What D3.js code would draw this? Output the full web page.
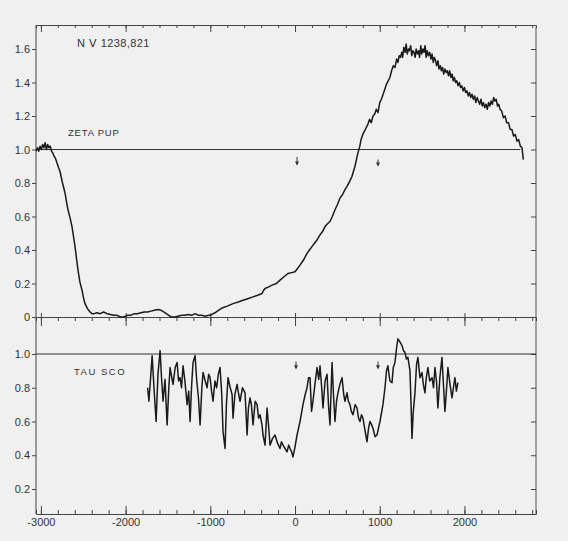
<!DOCTYPE html>
<html><head><meta charset="utf-8">
<script src="https://cdn.jsdelivr.net/npm/d3@7"></script>
<style>
html,body{margin:0;padding:0;background:#f0f0f0;}
text{font-family:"Liberation Sans",Arial,sans-serif;fill:#333;}
</style></head>
<body><svg id="c" width="568" height="541"></svg>
<script>
// ---- data (velocity km/s, normalised flux) ----
const xMajorTicks = [-3000,-2000,-1000,0,1000,2000];
const xMinorTicks = [-3000,-2800,-2600,-2400,-2200,-2000,-1800,-1600,-1400,-1200,-1000,-800,-600,-400,-200,0,200,400,600,800,1000,1200,1400,1600,1800,2000,2200,2400,2600,2800];
const topYTicks = [0,0.2,0.4,0.6,0.8,1.0,1.2,1.4,1.6];
const botYTicks = [0.2,0.4,0.6,0.8,1.0];
const titleText = "N \u2164  1238,821";
const starNames = ["ZETA PUP","TAU SCO"];
const arrowVel = [0, 980];

const zetaPup = [
[-3055,0.99],[-3040,1.01],[-3025,0.99],[-3010,1.02],[-2995,1.00],[-2980,1.03],[-2965,1.01],[-2950,1.04],[-2935,1.00],[-2920,1.03],[-2905,1.01],[-2890,1.02],[-2875,0.99],[-2860,0.98],[-2845,0.96],[-2830,0.95],[-2810,0.92],[-2790,0.89],[-2775,0.87],[-2745,0.80],[-2715,0.74],[-2695,0.68],[-2680,0.64],[-2655,0.59],[-2633,0.54],[-2615,0.48],[-2597,0.42],[-2580,0.35],[-2562,0.28],[-2540,0.21],[-2515,0.16],[-2495,0.11],[-2480,0.08],[-2450,0.05],[-2420,0.03],[-2397,0.02],[-2370,0.02],[-2340,0.025],[-2300,0.02],[-2260,0.03],[-2220,0.02],[-2180,0.015],[-2140,0.01],[-2100,0.01],[-2060,0.0],[-2020,0.0],[-1980,0.01],[-1940,0.01],[-1900,0.02],[-1860,0.02],[-1820,0.025],[-1780,0.03],[-1740,0.03],[-1700,0.035],[-1660,0.04],[-1620,0.045],[-1580,0.04],[-1550,0.03],[-1520,0.02],[-1490,0.01],[-1460,0.0],[-1420,0.0],[-1380,0.005],[-1340,0.01],[-1300,0.01],[-1260,0.015],[-1220,0.01],[-1180,0.02],[-1140,0.01],[-1100,0.01],[-1060,0.005],[-1020,0.01],[-1000,0.01],[-930,0.03],[-860,0.054],[-800,0.065],[-732,0.08],[-670,0.09],[-614,0.10],[-550,0.11],[-496,0.12],[-440,0.13],[-390,0.14],[-370,0.16],[-354,0.17],[-310,0.18],[-271,0.19],[-220,0.20],[-177,0.22],[-130,0.24],[-83,0.26],[-40,0.265],[0,0.27],[30,0.29],[59,0.31],[100,0.34],[142,0.38],[170,0.40],[200,0.42],[230,0.44],[260,0.46],[295,0.49],[325,0.51],[354,0.54],[380,0.555],[413,0.57],[440,0.60],[472,0.64],[500,0.67],[531,0.71],[560,0.73],[590,0.76],[614,0.78],[645,0.81],[673,0.84],[690,0.87],[708,0.90],[725,0.94],[743,0.98],[765,1.02],[780,1.06],[800,1.09],[820,1.11],[840,1.13],[860,1.15],[880,1.18],[900,1.16],[920,1.20],[940,1.21],[960,1.24],[980,1.22],[1000,1.28],[1020,1.30],[1040,1.33],[1060,1.36],[1080,1.39],[1100,1.41],[1120,1.43],[1140,1.47],[1160,1.50],[1180,1.49],[1200,1.54],[1215,1.52],[1230,1.56],[1245,1.55],[1260,1.58],[1270,1.55],[1285,1.61],[1300,1.58],[1312,1.63],[1325,1.57],[1340,1.60],[1350,1.59],[1365,1.62],[1378,1.56],[1392,1.59],[1405,1.58],[1418,1.55],[1430,1.60],[1445,1.57],[1458,1.59],[1470,1.55],[1485,1.62],[1496,1.57],[1510,1.60],[1522,1.58],[1535,1.62],[1548,1.55],[1560,1.59],[1575,1.56],[1590,1.58],[1605,1.54],[1618,1.57],[1632,1.52],[1645,1.55],[1660,1.53],[1672,1.50],[1688,1.53],[1700,1.48],[1715,1.50],[1728,1.47],[1742,1.49],[1755,1.45],[1770,1.48],[1785,1.46],[1798,1.47],[1812,1.44],[1826,1.47],[1840,1.43],[1855,1.45],[1868,1.41],[1882,1.43],[1895,1.40],[1910,1.41],[1925,1.38],[1940,1.40],[1955,1.37],[1970,1.38],[1985,1.35],[2000,1.37],[2015,1.34],[2030,1.35],[2045,1.32],[2060,1.34],[2075,1.31],[2090,1.33],[2105,1.30],[2120,1.32],[2135,1.28],[2150,1.31],[2165,1.29],[2180,1.27],[2195,1.30],[2210,1.26],[2225,1.28],[2240,1.25],[2255,1.27],[2270,1.24],[2285,1.28],[2300,1.26],[2315,1.29],[2330,1.27],[2345,1.31],[2360,1.29],[2375,1.30],[2390,1.26],[2405,1.27],[2420,1.24],[2440,1.23],[2460,1.19],[2480,1.20],[2500,1.16],[2520,1.16],[2540,1.12],[2560,1.12],[2580,1.08],[2600,1.09],[2620,1.05],[2640,1.06],[2660,1.02],[2680,1.01],[2695,0.94]
];

const tauSco = [
[-1740,0.80],[-1725,0.72],[-1705,0.86],[-1687,0.99],[-1665,0.80],[-1640,0.60],[-1618,0.88],[-1593,1.02],[-1575,0.85],[-1558,0.72],[-1535,0.85],[-1510,0.58],[-1490,0.80],[-1475,0.92],[-1455,0.86],[-1440,0.82],[-1415,0.92],[-1392,0.95],[-1375,0.84],[-1357,0.86],[-1340,0.80],[-1322,0.93],[-1300,0.84],[-1274,0.70],[-1255,0.78],[-1239,0.60],[-1220,0.82],[-1204,0.95],[-1180,0.99],[-1160,0.84],[-1140,0.74],[-1121,0.58],[-1100,0.80],[-1086,0.89],[-1060,0.84],[-1038,0.80],[-1020,0.88],[-1003,0.86],[-985,0.78],[-968,0.72],[-945,0.84],[-925,0.80],[-905,0.88],[-885,0.92],[-865,0.76],[-850,0.54],[-826,0.44],[-810,0.70],[-791,0.86],[-765,0.80],[-743,0.76],[-732,0.62],[-710,0.76],[-684,0.82],[-665,0.76],[-649,0.72],[-620,0.80],[-590,0.77],[-566,0.52],[-550,0.68],[-531,0.74],[-515,0.70],[-496,0.58],[-470,0.72],[-448,0.70],[-430,0.62],[-413,0.64],[-390,0.58],[-378,0.52],[-354,0.46],[-330,0.68],[-310,0.56],[-295,0.46],[-265,0.50],[-236,0.52],[-205,0.47],[-177,0.44],[-160,0.48],[-142,0.46],[-118,0.44],[-94,0.42],[-75,0.46],[-59,0.44],[-40,0.42],[-24,0.39],[0,0.45],[24,0.52],[59,0.60],[94,0.70],[120,0.76],[142,0.80],[160,0.86],[177,0.86],[195,0.66],[212,0.72],[235,0.82],[260,0.92],[280,0.85],[295,0.93],[315,0.80],[330,0.68],[355,0.84],[378,0.88],[395,0.70],[413,0.58],[437,0.95],[455,0.75],[472,0.60],[490,0.72],[507,0.77],[530,0.82],[555,0.86],[575,0.76],[590,0.72],[614,0.77],[630,0.72],[649,0.70],[665,0.66],[684,0.64],[710,0.70],[732,0.68],[750,0.62],[767,0.60],[785,0.64],[802,0.62],[825,0.55],[850,0.48],[868,0.56],[885,0.60],[905,0.58],[920,0.56],[945,0.51],[968,0.52],[985,0.56],[1003,0.60],[1038,0.70],[1062,0.80],[1080,0.90],[1097,0.93],[1120,0.84],[1145,0.83],[1160,0.92],[1180,0.95],[1200,1.04],[1215,1.09],[1240,1.07],[1263,1.05],[1280,1.02],[1298,1.01],[1315,0.97],[1333,0.98],[1357,0.90],[1370,0.70],[1381,0.50],[1395,0.65],[1416,0.77],[1435,0.94],[1451,0.98],[1475,0.86],[1499,0.89],[1515,0.82],[1534,0.77],[1550,0.86],[1569,0.92],[1590,0.84],[1617,0.86],[1635,0.80],[1652,0.92],[1670,0.84],[1687,0.68],[1710,0.86],[1735,0.98],[1750,0.84],[1770,0.66],[1790,0.80],[1805,0.92],[1830,0.82],[1853,0.74],[1870,0.80],[1888,0.86],[1905,0.78],[1923,0.83]
];

// ---- layout ----
const svg = d3.select("#c");
const L = 36, R = 536, T = 25, MID = 317, B = 514;

const x = d3.scaleLinear().domain([-3058, 2845]).range([L, R]);
const yTop = d3.scaleLinear().domain([0, 1.6]).range([MID, 49]);
const yBot = d3.scaleLinear().domain([0.2, 1.0]).range([489, 354]);

function styleAxis(g){
  g.select(".domain").attr("stroke","#444").attr("stroke-width",1);
  g.selectAll(".tick line").attr("stroke","#444").attr("stroke-width",1);
  g.selectAll(".tick text").attr("fill","#333").style("font-size","11px")
   .style("font-family","'Liberation Sans',Arial,sans-serif");
}

// frame: left and right verticals
svg.append("line").attr("x1",L).attr("x2",L).attr("y1",T).attr("y2",B).attr("stroke","#444");
svg.append("line").attr("x1",R).attr("x2",R).attr("y1",T+2).attr("y2",B).attr("stroke","#555");

// top border with downward ticks
svg.append("g").attr("transform",`translate(0,${T})`)
  .call(d3.axisTop(x).tickValues(xMinorTicks).tickSize(-3).tickFormat("")).call(styleAxis);
svg.append("g").attr("transform",`translate(0,${T})`)
  .call(d3.axisTop(x).tickValues(xMajorTicks).tickSize(-7).tickFormat("")).call(styleAxis)
  .select(".domain").remove();

// middle axis (zero of top panel)
svg.append("g").attr("transform",`translate(0,${MID})`)
  .call(d3.axisBottom(x).tickValues(xMinorTicks).tickSize(4).tickFormat("")).call(styleAxis);
const midMaj = svg.append("g").attr("transform",`translate(0,${MID})`)
  .call(d3.axisBottom(x).tickValues(xMajorTicks).tickSize(9).tickFormat("")).call(styleAxis);
midMaj.select(".domain").remove();
midMaj.selectAll(".tick line").attr("y1",-4);

// bottom axis with inward ticks and labels
svg.append("g").attr("transform",`translate(0,${B})`)
  .call(d3.axisBottom(x).tickValues(xMinorTicks).tickSize(-4).tickFormat("")).call(styleAxis);
const botMaj = svg.append("g").attr("transform",`translate(0,${B})`)
  .call(d3.axisBottom(x).tickValues(xMajorTicks).tickSize(-8).tickPadding(5).tickFormat(d3.format("d"))).call(styleAxis);
botMaj.select(".domain").remove();
botMaj.selectAll(".tick text").attr("dy","0.6em").text(d => d < 0 ? "-" + Math.abs(d) : d);

// left y axes
const fmt = d => d === 0 ? "0" : d.toFixed(1);
const gTopY = svg.append("g").attr("transform",`translate(${L},0)`)
  .call(d3.axisLeft(yTop).tickValues(topYTicks).tickSize(4).tickPadding(2).tickFormat(fmt)).call(styleAxis);
gTopY.select(".domain").remove();
const gBotY = svg.append("g").attr("transform",`translate(${L},0)`)
  .call(d3.axisLeft(yBot).tickValues(botYTicks).tickSize(4).tickPadding(2).tickFormat(fmt)).call(styleAxis);
gBotY.select(".domain").remove();

// right y ticks (inward)
const gTopR = svg.append("g").attr("transform",`translate(${R},0)`)
  .call(d3.axisRight(yTop).tickValues(topYTicks.filter(d=>d>0)).tickSize(-5).tickFormat("")).call(styleAxis);
gTopR.select(".domain").remove();
const gBotR = svg.append("g").attr("transform",`translate(${R},0)`)
  .call(d3.axisRight(yBot).tickValues(botYTicks).tickSize(-5).tickFormat("")).call(styleAxis);
gBotR.select(".domain").remove();

// continuum lines at 1.0
svg.append("line").attr("x1",x(-3058)).attr("x2",x(2660)).attr("y1",yTop(1)).attr("y2",yTop(1))
  .attr("stroke","#333").attr("stroke-width",1);
svg.append("line").attr("x1",x(-3058)).attr("x2",x(2845)).attr("y1",yBot(1)).attr("y2",yBot(1))
  .attr("stroke","#333").attr("stroke-width",1);

// profiles
const lineTop = d3.line().x(d=>x(d[0])).y(d=>yTop(d[1]));
const lineBot = d3.line().x(d=>x(d[0])).y(d=>yBot(d[1]));
svg.append("path").datum(zetaPup).attr("d",lineTop).attr("fill","none")
  .attr("stroke","#1a1a1a").attr("stroke-width",1.5).attr("stroke-linejoin","round");
svg.append("path").datum(tauSco).attr("d",lineBot).attr("fill","none")
  .attr("stroke","#1a1a1a").attr("stroke-width",1.5).attr("stroke-linejoin","round");

// arrows
function arrow(xp, y1, y2){
  svg.append("line").attr("x1",xp).attr("x2",xp).attr("y1",y1).attr("y2",y2).attr("stroke","#333").attr("stroke-width",1);
  svg.append("path").attr("d",`M${xp-2},${y2-3}L${xp+2},${y2-3}L${xp},${y2+1}Z`).attr("fill","#333");
}
arrow(x(arrowVel[0])+2, yTop(0.955), yTop(0.91));
arrow(x(arrowVel[1]), yTop(0.94), yTop(0.905));
arrow(x(arrowVel[0])+1, yBot(0.955), yBot(0.915));
arrow(x(arrowVel[1]), yBot(0.955), yBot(0.915));

// texts
svg.append("text").attr("x",77).attr("y",47).style("font-size","11px").style("letter-spacing","0.4px").attr("fill","#333").text(titleText);
svg.append("text").attr("x",68).attr("y",136).style("font-size","9.5px").style("letter-spacing","0.8px").attr("fill","#333").text(starNames[0]);
svg.append("text").attr("x",74).attr("y",375).style("font-size","9.5px").style("letter-spacing","1.5px").attr("fill","#333").text(starNames[1]);
</script></body></html>
